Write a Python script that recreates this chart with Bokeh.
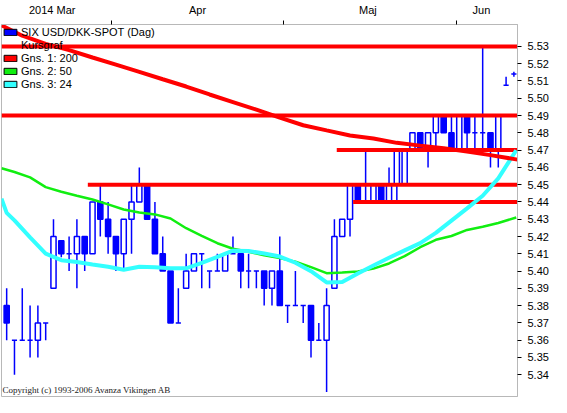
from bokeh.plotting import figure
from bokeh.models import (Range1d, FixedTicker, PrintfTickFormatter, Legend,
                          LegendItem, Label, ColumnDataSource)
from bokeh.embed import file_html
from bokeh.resources import INLINE

# ---------------- data ----------------
opens = [5.38, 5.36, 5.36, 5.36, 5.36, 5.37, 5.39, 5.4175, 5.41, 5.41,
         5.42, 5.41, 5.44, 5.43, 5.42, 5.41, 5.43, 5.44, 5.45, 5.43,
         5.41, 5.40, 5.37, 5.39, 5.40, 5.41, 5.40, 5.40, 5.40, 5.41,
         5.41, 5.40, 5.40, 5.40, 5.39, 5.40, 5.38, 5.38, 5.38, 5.38,
         5.36, 5.36, 5.39, 5.42, 5.43, 5.45, 5.44, 5.44, 5.45, 5.44,
         5.45, 5.45, 5.47, 5.48, 5.47, 5.48, 5.49, 5.48, 5.47, 5.49,
         5.48, 5.48, 5.48, 5.47, 5.5075, 5.514]
highs = [5.39, 5.36, 5.39, 5.38, 5.38, 5.37, 5.43, 5.4175, 5.42, 5.43,
         5.42, 5.44, 5.45, 5.44, 5.42, 5.43, 5.45, 5.46, 5.45, 5.44,
         5.42, 5.40, 5.39, 5.41, 5.41, 5.41, 5.40, 5.41, 5.41, 5.42,
         5.41, 5.41, 5.40, 5.40, 5.40, 5.42, 5.38, 5.40, 5.38, 5.38,
         5.37, 5.39, 5.43, 5.43, 5.45, 5.45, 5.47, 5.45, 5.45, 5.46,
         5.47, 5.47, 5.48, 5.48, 5.48, 5.49, 5.49, 5.49, 5.49, 5.49,
         5.49, 5.53, 5.48, 5.49, 5.5125, 5.5153]
lows = [5.36, 5.34, 5.36, 5.35, 5.35, 5.36, 5.39, 5.408, 5.40, 5.39,
        5.40, 5.41, 5.42, 5.41, 5.40, 5.40, 5.41, 5.44, 5.43, 5.41,
        5.40, 5.37, 5.37, 5.39, 5.40, 5.39, 5.39, 5.40, 5.40, 5.41,
        5.39, 5.39, 5.39, 5.38, 5.38, 5.38, 5.37, 5.38, 5.37, 5.35,
        5.36, 5.33, 5.39, 5.42, 5.42, 5.44, 5.44, 5.44, 5.44, 5.44,
        5.44, 5.45, 5.47, 5.47, 5.46, 5.47, 5.48, 5.47, 5.47, 5.47,
        5.47, 5.47, 5.46, 5.46, 5.5075, 5.5125]
closes = [5.37, 5.36, 5.36, 5.36, 5.37, 5.37, 5.42, 5.41, 5.41, 5.42,
          5.41, 5.44, 5.43, 5.42, 5.41, 5.43, 5.44, 5.45, 5.43, 5.41,
          5.40, 5.37, 5.37, 5.40, 5.41, 5.41, 5.40, 5.40, 5.41, 5.41,
          5.40, 5.40, 5.40, 5.39, 5.40, 5.38, 5.38, 5.38, 5.38, 5.36,
          5.36, 5.38, 5.42, 5.43, 5.45, 5.44, 5.44, 5.45, 5.44, 5.45,
          5.47, 5.47, 5.48, 5.47, 5.48, 5.49, 5.48, 5.47, 5.49, 5.48,
          5.48, 5.48, 5.47, 5.49, 5.5075, 5.514]

# moving averages, read at sampled bar positions
ma200_idx = [-0.66, 2, 5, 8, 11, 14, 17, 20, 23, 26, 29, 32, 35, 38, 41,
             44, 47, 50, 53, 56, 59, 62, 65.46]
ma200 = [5.5422, 5.5362, 5.5315, 5.5279, 5.5236, 5.5195, 5.5153, 5.5110,
         5.5068, 5.5022, 5.4978, 5.4934, 5.4888, 5.4844, 5.4814, 5.4785,
         5.4767, 5.4742, 5.4726, 5.4711, 5.4692, 5.4671, 5.4645]

ma50_idx = [-0.66, 1, 3, 5, 7, 9, 11, 13, 15, 17, 19, 21, 23, 25, 27, 29,
            31, 33, 35, 37, 39, 41, 43, 45, 47, 49, 51, 53, 55, 57, 59, 61,
            63, 65.3]
ma50 = [5.4595, 5.4573, 5.4542, 5.4486, 5.4459, 5.4436, 5.4414, 5.4386,
        5.4356, 5.4339, 5.4328, 5.4304, 5.4248, 5.4204, 5.4161, 5.4129,
        5.4112, 5.4091, 5.4075, 5.4054, 5.4023, 5.3988, 5.3992, 5.3997,
        5.4014, 5.4044, 5.4086, 5.4138, 5.4181, 5.4203, 5.4238, 5.4256,
        5.4278, 5.4310]

ma24_idx = [-0.66, 0, 1, 3, 5, 7, 9, 11, 13, 15, 17, 19, 21, 23, 25, 27,
            29, 31, 33, 35, 37, 39, 41, 43, 45, 47, 49, 51, 53, 55, 57, 59,
            61, 63, 65.3]
ma24 = [5.4419, 5.4337, 5.4293, 5.4195, 5.4101, 5.4063, 5.4052, 5.4038,
        5.4025, 5.4008, 5.4025, 5.4022, 5.4016, 5.4016, 5.4047, 5.4082,
        5.4118, 5.4116, 5.4102, 5.4084, 5.4048, 5.3999, 5.3934, 5.3936,
        5.3986, 5.4032, 5.4077, 5.4120, 5.4162, 5.4221, 5.4292, 5.4363,
        5.4436, 5.4536, 5.4699]

# support / resistance lines: level and first bar position
hline_levels = [5.53, 5.49, 5.47, 5.45, 5.44]
hline_starts = [-0.66, -0.66, 42.3, 10.4, 44.4]

price_ticks = [5.34, 5.35, 5.36, 5.37, 5.38, 5.39, 5.40, 5.41, 5.42, 5.43,
               5.44, 5.45, 5.46, 5.47, 5.48, 5.49, 5.50, 5.51, 5.52, 5.53]
month_labels = ["2014 Mar", "Apr", "Maj", "Jun"]
month_label_pos = [5.84, 24.46, 46.3, 60.84]
month_tick_pos = [13.46, 35.46, 57.59]

legend_labels = ["SIX USD/DKK-SPOT (Dag)", "Kursgraf", "Gns. 1: 200",
                 "Gns. 2: 50", "Gns. 3: 24"]

# ---------------- styling ----------------
BLUE = "#0000ff"
RED = "#ff0000"
GREEN = "#11ee11"
CYAN = "#33ffff"
GRAY = "#b8b8b8"
FONT = "Liberation Sans"

X0, X1 = -0.6625, 65.4625
Y0, Y1 = 5.3274, 5.5427

p = figure(width=551, height=397, x_range=Range1d(X0, X1),
           y_range=Range1d(Y0, Y1), x_axis_location="above",
           y_axis_location="right", toolbar_location=None,
           output_backend="svg", min_border_left=1, min_border_right=30,
           min_border_top=18, min_border_bottom=1)
p.background_fill_color = "white"
p.border_fill_color = "white"
p.outline_line_color = GRAY
p.grid.visible = False

# top (time) axis
xa = p.xaxis[0]
xa.ticker = FixedTicker(ticks=month_label_pos, minor_ticks=month_tick_pos)
xa.major_label_overrides = {pos: lab for pos, lab in zip(month_label_pos, month_labels)}
xa.major_tick_out = 0
xa.major_tick_in = 0
xa.minor_tick_out = 4
xa.minor_tick_in = 0
xa.minor_tick_line_color = "black"
xa.axis_line_color = GRAY
xa.major_label_text_font = FONT
xa.major_label_text_font_size = "11px"
xa.major_label_text_color = "black"
xa.major_label_standoff = 5

# right (price) axis
ya = p.yaxis[0]
ya.ticker = FixedTicker(ticks=price_ticks, minor_ticks=[])
ya.formatter = PrintfTickFormatter(format="%.2f")
ya.major_tick_out = 4
ya.major_tick_in = 0
ya.major_tick_line_color = "black"
ya.minor_tick_out = 0
ya.minor_tick_in = 0
ya.axis_line_color = GRAY
ya.major_label_text_font = FONT
ya.major_label_text_font_size = "11px"
ya.major_label_text_color = "black"
ya.major_label_standoff = 6

# candles
idx = list(range(len(opens)))
src = ColumnDataSource(dict(
    x=idx,
    high=highs,
    low=lows,
    top=[max(o, c) for o, c in zip(opens, closes)],
    bottom=[min(o, c) for o, c in zip(opens, closes)],
    fill=["white" if c >= o else BLUE for o, c in zip(opens, closes)],
))
p.segment(x0="x", y0="low", x1="x", y1="high", source=src,
          line_color=BLUE, line_width=1.5)
p.vbar(x="x", width=0.66, top="top", bottom="bottom", source=src,
       fill_color="fill", line_color=BLUE, line_width=1.5)

# horizontal levels
p.segment(x0=hline_starts, x1=[X1] * len(hline_levels), y0=hline_levels,
          y1=hline_levels, line_color=RED, line_width=4, line_cap="butt")

# moving averages
p.line(ma50_idx, ma50, line_color=GREEN, line_width=2.5)
p.line(ma24_idx, ma24, line_color=CYAN, line_width=4)
p.line(ma200_idx, ma200, line_color=RED, line_width=4)

# legend swatches: hidden one-point renderers, shown only in the legend
sw_colors = [BLUE, None, RED, GREEN, CYAN]
items = []
for lab, col in zip(legend_labels, sw_colors):
    if col is None:
        r = p.rect(x=[X0], y=[Y0], width=1, height=0.001, fill_alpha=0, line_alpha=0)
    else:
        r = p.rect(x=[X0], y=[Y0], width=1, height=0.001, fill_color=col,
                   line_color="black", line_width=1)
    r.visible = False
    items.append(LegendItem(label=lab, renderers=[r]))
legend = Legend(items=items, location="top_left", margin=0, padding=1,
                spacing=0, glyph_width=16, glyph_height=8, label_standoff=3,
                label_height=13, label_text_font=FONT,
                label_text_font_size="11px", label_text_color="black",
                background_fill_alpha=0, border_line_alpha=0,
                inactive_fill_alpha=0, click_policy="none")
p.add_layout(legend)

# copyright note
p.add_layout(Label(x=X0 + 0.12, y=Y0 + 0.001, text="Copyright (c) 1993-2006 Avanza Vikingen AB",
                   text_font="Liberation Serif", text_font_size="9px",
                   text_color="#222222", text_baseline="bottom"))

open("out.html", "w").write(file_html(p, INLINE))
